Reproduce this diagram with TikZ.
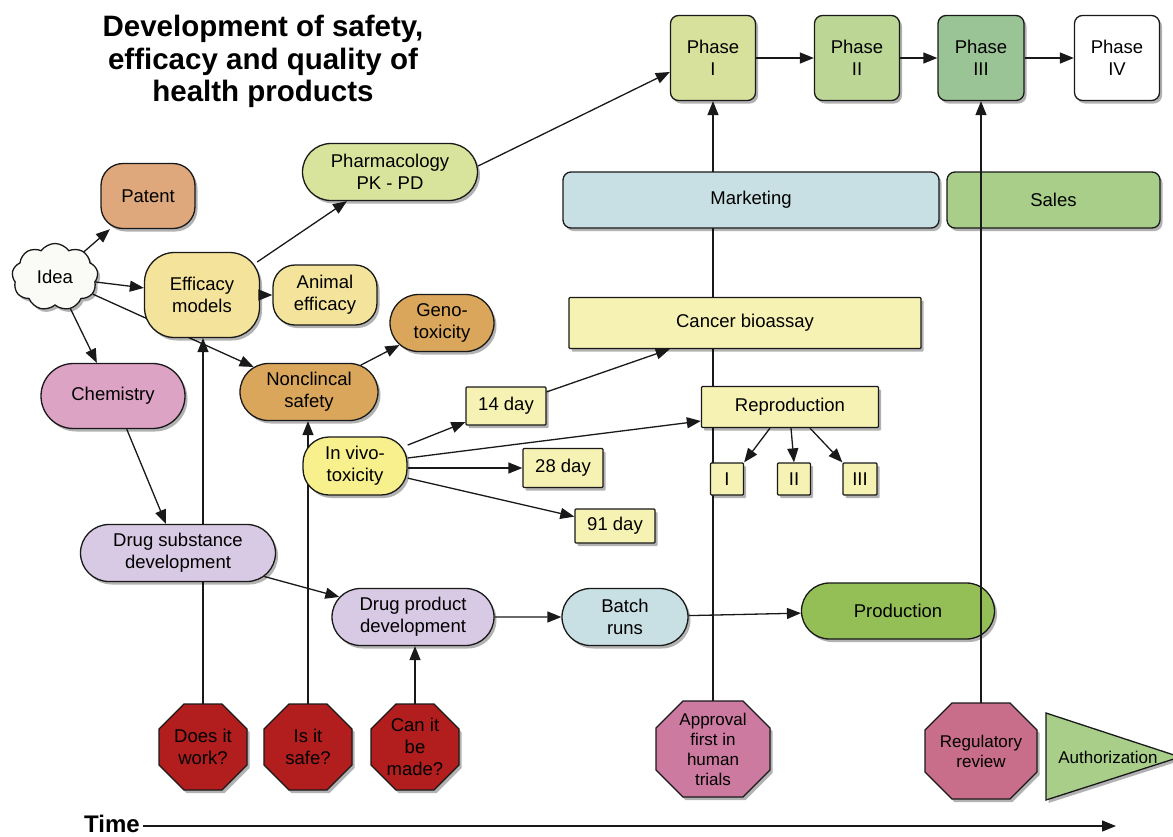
\documentclass[tikz,border=0pt]{standalone}
\usepackage{fontspec}
\setmainfont{Liberation Sans}
\usetikzlibrary{arrows.meta,shapes.misc,shapes.symbols,shapes.geometric,shadows,calc,backgrounds}
\definecolor{phIc}{RGB}{215,225,155}
\definecolor{phIIc}{RGB}{188,214,150}
\definecolor{phIIIc}{RGB}{155,196,150}
\definecolor{mktc}{RGB}{200,224,228}
\definecolor{salesc}{RGB}{168,206,138}
\definecolor{patc}{RGB}{222,168,124}
\definecolor{pharmc}{RGB}{216,228,156}
\definecolor{ideac}{RGB}{250,250,246}
\definecolor{effc}{RGB}{243,227,155}
\definecolor{orc}{RGB}{217,166,92}
\definecolor{chemc}{RGB}{221,163,196}
\definecolor{ivc}{RGB}{247,240,140}
\definecolor{boxc}{RGB}{246,242,180}
\definecolor{lavc}{RGB}{216,202,228}
\definecolor{prodc}{RGB}{148,191,86}
\definecolor{redc}{RGB}{178,30,30}
\definecolor{apprc}{RGB}{204,122,160}
\definecolor{regc}{RGB}{200,110,138}
\definecolor{authc}{RGB}{168,206,138}
\definecolor{linec}{RGB}{25,25,25}
\newcommand\octshape[6]{%
  \filldraw[octo,fill=#6] (#1-#3+#5,#2-#4) -- (#1+#3-#5,#2-#4) -- (#1+#3,#2-#4+#5) -- (#1+#3,#2+#4-#5) -- (#1+#3-#5,#2+#4) -- (#1-#3+#5,#2+#4) -- (#1-#3,#2+#4-#5) -- (#1-#3,#2-#4+#5) -- cycle;}
\begin{document}
\begin{tikzpicture}[x=1pt,y=-1pt,
  every node/.style={font=\fontsize{18.5}{22}\selectfont, align=center, text=black},
  shad/.style={drop shadow={shadow xshift=2.5pt,shadow yshift=-3pt,opacity=.3,fill=black}},
  box/.style={draw=linec, line width=1.3pt, inner sep=0pt, shad},
  rbox/.style={box, rectangle, rounded corners=#1},
  pill/.style={box, rounded rectangle},
  sq/.style={box, rectangle, rounded corners=1pt},
  octo/.style={draw=linec, line width=1.3pt, shad},
  octtext/.style={rectangle, inner sep=0pt},
  small/.style={font=\fontsize{17}{20}\selectfont},
  arr/.style={line width=1.3pt, draw=linec, -{Triangle[length=14pt,width=11pt]}},
]
\useasboundingbox (0,0) rectangle (1173,836);
\begin{scope}[on background layer]
\fill[white] (0,0) rectangle (1173,836);
\end{scope}

% title
\node[font=\bfseries\fontsize{29.5}{32.5}\selectfont, inner sep=0pt] (title) at (263,61.5) {Development of safety,\\efficacy and quality of\\health products};

% phases
\node[rbox=8, fill=phIc, minimum width=85pt, minimum height=85pt] (ph1) at (713,58) {Phase\\I};
\node[rbox=8, fill=phIIc, minimum width=85pt, minimum height=85pt] (ph2) at (857,58) {Phase\\II};
\node[rbox=8, fill=phIIIc, minimum width=86pt, minimum height=85pt] (ph3) at (981,58) {Phase\\III};
\node[rbox=8, fill=white, minimum width=85pt, minimum height=85pt] (ph4) at (1117,58) {Phase\\IV};

\node[rbox=8, fill=mktc, minimum width=376pt, minimum height=56pt] (mkt) at (751,200) {Marketing};
\node[rbox=8, fill=salesc, minimum width=213pt, minimum height=56pt] (sales) at (1053.5,200) {Sales};

% left part
\node[rbox=22, fill=patc, minimum width=94pt, minimum height=65pt] (patent) at (148,196) {Patent};
\node[pill, fill=pharmc, minimum width=175pt, minimum height=57pt] (pharm) at (390,172) {Pharmacology\\PK - PD};
\node[box, cloud, cloud puffs=9, cloud puff arc=110, aspect=1.3, fill=ideac, minimum width=86pt, minimum height=67pt] (idea) at (55,277) {Idea};
\node[rbox=30, fill=effc, minimum width=115pt, minimum height=85pt] (eff) at (202,295) {Efficacy\\models};
\node[rbox=22, fill=effc, minimum width=104pt, minimum height=60pt] (animal) at (325,295) {Animal\\efficacy};
\node[pill, fill=orc, minimum width=104pt, minimum height=57pt] (geno) at (442,323) {Geno-\\toxicity};
\node[pill, fill=chemc, minimum width=144pt, minimum height=65pt] (chem) at (113,396) {Chemistry};
\node[pill, fill=orc, minimum width=138pt, minimum height=57pt] (nonclin) at (309,392) {Nonclincal\\safety};
\node[rbox=26, fill=ivc, minimum width=104pt, minimum height=58pt] (iv) at (355,466) {In vivo-\\toxicity};

% toxicity studies
\node[sq, fill=boxc, minimum width=80pt, minimum height=38pt] (d14) at (506,406) {14 day};
\node[sq, fill=boxc, minimum width=80pt, minimum height=39pt] (d28) at (563,468) {28 day};
\node[sq, fill=boxc, minimum width=80pt, minimum height=34pt] (d91) at (615,526) {91 day};
\node[sq, fill=boxc, minimum width=352pt, minimum height=51pt] (cancer) at (745,323) {Cancer bioassay};
\node[sq, fill=boxc, minimum width=177pt, minimum height=41pt] (rep) at (790,407) {Reproduction};
\node[sq, fill=boxc, minimum width=33pt, minimum height=32pt] (r1) at (727,479) {I};
\node[sq, fill=boxc, minimum width=33pt, minimum height=32pt] (r2) at (794,479) {II};
\node[sq, fill=boxc, minimum width=34pt, minimum height=32pt] (r3) at (860,479) {III};

% development line
\node[pill, fill=lavc, minimum width=195pt, minimum height=57pt] (ds) at (178,553) {Drug substance\\development};
\node[pill, fill=lavc, minimum width=162pt, minimum height=57pt] (dp) at (413,617) {Drug product\\development};
\node[pill, fill=mktc, minimum width=126pt, minimum height=57pt] (batch) at (625,617) {Batch\\runs};
\node[pill, fill=prodc, minimum width=193pt, minimum height=56pt] (prod) at (898,611) {Production};

% octagons
\octshape{203}{747}{44}{43}{25}{redc}
\node[octtext, minimum width=88pt, minimum height=86pt] (dw) at (203,747) {Does it\\work?};
\octshape{308}{747}{44}{43}{25}{redc}
\node[octtext, minimum width=88pt, minimum height=86pt] (safe) at (308,747) {Is it\\safe?};
\octshape{415}{747}{44}{43}{25}{redc}
\node[octtext, minimum width=88pt, minimum height=86pt] (made) at (415,747) {Can it\\be\\made?};
\octshape{713}{749}{57}{48}{27}{apprc}
\node[octtext, small, minimum width=114pt, minimum height=96pt] (appr) at (713,749) {Approval\\first in\\human\\trials};
\octshape{981}{751}{56}{48}{27}{regc}
\node[octtext, small, minimum width=112pt, minimum height=96pt] (reg) at (981,751) {Regulatory\\review};
\filldraw[octo, fill=authc] (1046,713) -- (1180,757) -- (1046,800) -- cycle;
\node[small, inner sep=0pt] (auth) at (1108,757) {Authorization};

% time
\node[font=\bfseries\fontsize{24}{28}\selectfont, anchor=base west, inner sep=0pt] (time) at (84,832) {Time};
\coordinate (tend) at (1116,826);
\draw[arr] ($(time.east |- tend)+(3,0)$) -- (tend);

% connectors behind nodes
\begin{scope}[on background layer]
\draw[arr] (idea) -- (nonclin);
\draw[arr] (appr.north) -- (ph1.south);
\draw[arr] (dw.north) -- (dw.north |- eff.south);
\draw[arr] (safe.north) -- (safe.north |- nonclin.south);
\end{scope}

% connectors
\draw[arr] (idea) -- (patent);
\draw[arr] (idea) -- (eff);
\draw[arr] (idea) -- (chem);
\draw[arr] (eff) -- (animal);
\draw[arr] ($(eff.east)+(-3,-33)$) -- (pharm);
\draw[arr] (nonclin) -- (geno);
\draw[arr] (chem) -- (ds);
\draw[arr] (ds) -- (dp);
\draw[arr] (dp) -- (batch);
\draw[arr] (batch) -- (prod);
\draw[arr] (made.north) -- (made.north |- dp.south);
\draw[arr] (iv) -- (d14);
\draw[arr] ($(iv.east)+(0,-8)$) -- ($(rep.west)+(0,14)$);
\draw[arr] (iv.east |- d28) -- (d28.west);
\draw[arr] (iv) -- (d91);
\draw[arr] (d14) -- (cancer);
\draw[arr] ($(rep.south)+(-20,0)$) -- (r1.north east);
\draw[arr] ($(rep.south)+(1,0)$) -- (r2.north);
\draw[arr] ($(rep.south)+(20,0)$) -- (r3.north west);
\draw[arr] ($(pharm.east)+(0,-6)$) -- ($(ph1.west)+(0,14)$);
\draw[arr] (ph1) -- (ph2);
\draw[arr] (ph2) -- (ph3);
\draw[arr] (ph3) -- (ph4);
\draw[arr] (reg.north) -- (ph3.south);
\end{tikzpicture}
\end{document}
